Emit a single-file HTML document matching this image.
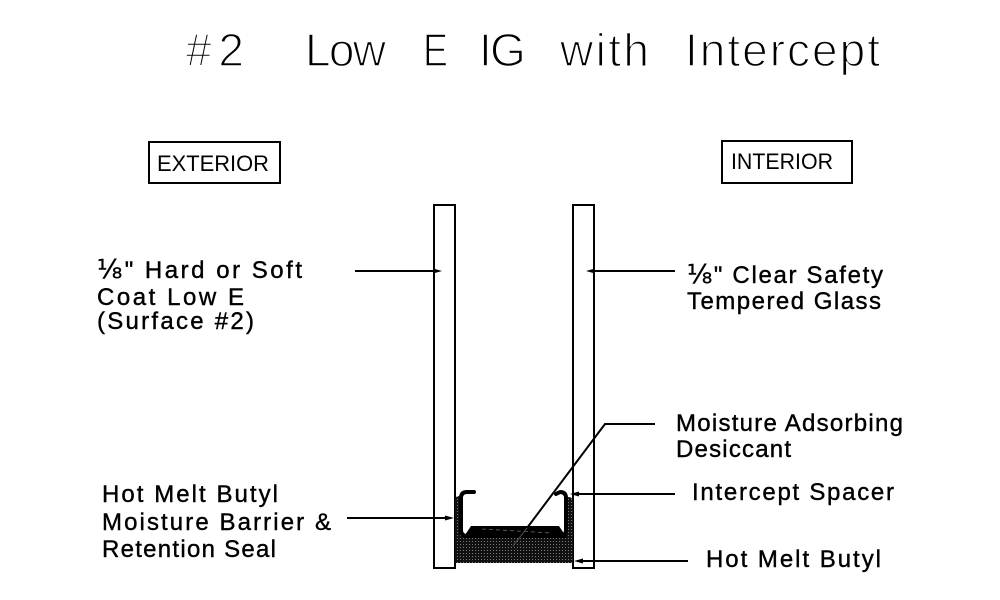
<!DOCTYPE html>
<html>
<head>
<meta charset="utf-8">
<style>
  html,body{margin:0;padding:0;background:#fff;}
  svg{display:block;}
  .lbl{font-family:"Liberation Sans","DejaVu Sans",sans-serif;font-size:24px;fill:#000;stroke:#000;stroke-width:0.4px;}
  .ttl{font-family:"Liberation Sans","DejaVu Sans",sans-serif;font-size:46px;fill:#000;stroke:#fff;stroke-width:1.4px;paint-order:normal;}
  .box{font-family:"Liberation Sans","DejaVu Sans",sans-serif;font-size:22px;fill:#000;}
  .fr{font-family:"DejaVu Sans","Liberation Sans",sans-serif;font-size:26px;}
</style>
</head>
<body>
<svg width="1000" height="600" viewBox="0 0 1000 600" xmlns="http://www.w3.org/2000/svg">
  <defs>
    <pattern id="dots" width="3" height="3" patternUnits="userSpaceOnUse">
      <rect width="3" height="3" fill="#111"/>
      <rect x="1" y="1" width="1" height="1" fill="#777"/>
    </pattern>
  </defs>
  <rect width="1000" height="600" fill="#fff"/>

  <!-- Title -->
  <text class="ttl" x="186" y="66" textLength="58" lengthAdjust="spacing">#2</text>
  <text class="ttl" x="305" y="66" textLength="81" lengthAdjust="spacing">Low</text>
  <text class="ttl" x="423" y="66" textLength="25" lengthAdjust="spacingAndGlyphs">E</text>
  <text class="ttl" x="479" y="66">I</text>
  <text class="ttl" x="490" y="66">G</text>
  <text class="ttl" x="560" y="66" textLength="89" lengthAdjust="spacing">with</text>
  <text class="ttl" x="685" y="66" textLength="195" lengthAdjust="spacing">Intercept</text>

  <!-- EXTERIOR / INTERIOR boxes -->
  <rect x="149" y="142" width="131" height="41" fill="none" stroke="#000" stroke-width="2"/>
  <text class="box" x="157" y="171" textLength="112" lengthAdjust="spacingAndGlyphs">EXTERIOR</text>
  <rect x="722" y="141" width="130" height="42" fill="none" stroke="#000" stroke-width="2"/>
  <text class="box" x="731" y="169" textLength="102" lengthAdjust="spacingAndGlyphs">INTERIOR</text>

  <!-- Glass panes -->
  <rect x="434" y="205" width="21" height="363" fill="#fff" stroke="#000" stroke-width="2"/>
  <rect x="573" y="205" width="21" height="363" fill="#fff" stroke="#000" stroke-width="2"/>

  <!-- Butyl -->
  <path d="M455,499 Q456,496 459,496 L459,497 L568,497 Q572,497 573,500 L573,563 L455,563 Z" fill="url(#dots)"/>
  <rect x="463" y="489" width="101" height="45" fill="#fff"/>

  <!-- Desiccant -->
  <polygon points="471,526 559,526 567,538 463,538" fill="#000"/>
  <line x1="482" y1="529" x2="552" y2="533" stroke="#666" stroke-width="0.8" stroke-dasharray="4,3"/>

  <!-- Spacer -->
  <path d="M474,492 L467,492 Q461,492 461,498 L461,530 Q461,536 467,536 L560,536 Q566,536 566,530 L566,498 Q566,492 560,492 L556,494" fill="none" stroke="#000" stroke-width="4" stroke-linecap="round" stroke-linejoin="round"/>

  <!-- Leaders -->
  <g stroke="#000" stroke-width="2" fill="none">
    <line x1="355" y1="271" x2="437" y2="271"/>
    <line x1="591" y1="271" x2="675" y2="271"/>
    <line x1="347" y1="518" x2="449" y2="518"/>
    <line x1="575" y1="494" x2="675" y2="494"/>
    <line x1="579" y1="561" x2="688" y2="561"/>
    <polyline points="655,424 605,424 527,528"/>
  </g>
  <line x1="527" y1="528" x2="513" y2="546" stroke="#555" stroke-width="1"/>
  <g fill="#000">
    <polygon points="442,271 433,268.5 433,273.5"/>
    <polygon points="586,271 595,268.5 595,273.5"/>
    <polygon points="454,518 445,515.5 445,520.5"/>
    <polygon points="570,494 579,491.5 579,496.5"/>
    <polygon points="574,561 583,558.5 583,563.5"/>
  </g>

  <!-- Left labels -->
  <text class="lbl" x="97" y="278" textLength="205" lengthAdjust="spacing"><tspan class="fr">⅛</tspan>" Hard or Soft</text>
  <text class="lbl" x="97" y="305" textLength="147" lengthAdjust="spacing">Coat Low E</text>
  <text class="lbl" x="97" y="329" textLength="157" lengthAdjust="spacing">(Surface #2)</text>

  <text class="lbl" x="102" y="502" textLength="176" lengthAdjust="spacing">Hot Melt Butyl</text>
  <text class="lbl" x="102" y="530" textLength="229" lengthAdjust="spacing">Moisture Barrier &amp;</text>
  <text class="lbl" x="102" y="557" textLength="174" lengthAdjust="spacing">Retention Seal</text>

  <!-- Right labels -->
  <text class="lbl" x="687" y="283" textLength="196" lengthAdjust="spacing"><tspan class="fr">⅛</tspan>" Clear Safety</text>
  <text class="lbl" x="687" y="309" textLength="194" lengthAdjust="spacing">Tempered Glass</text>

  <text class="lbl" x="676" y="431" textLength="227" lengthAdjust="spacing">Moisture Adsorbing</text>
  <text class="lbl" x="676" y="457" textLength="115" lengthAdjust="spacing">Desiccant</text>
  <text class="lbl" x="692" y="500" textLength="202" lengthAdjust="spacing">Intercept Spacer</text>
  <text class="lbl" x="706" y="567" textLength="175" lengthAdjust="spacing">Hot Melt Butyl</text>
</svg>
</body>
</html>
